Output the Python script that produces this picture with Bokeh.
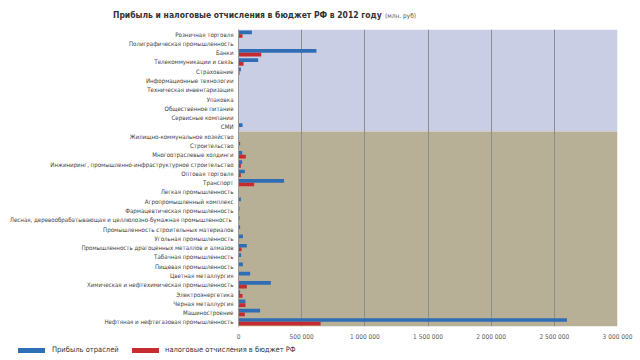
from bokeh.plotting import figure
from bokeh.models import (ColumnDataSource, FixedTicker, BoxAnnotation, Range1d, Div)
from bokeh.layouts import column
from bokeh.embed import file_html
from bokeh.resources import INLINE

categories = [
    "Розничная торговля",
    "Полиграфическая промышленность",
    "Банки",
    "Телекоммуникации и связь",
    "Страхование",
    "Информационные технологии",
    "Техническая инвентаризация",
    "Упаковка",
    "Общественное питание",
    "Сервисные компании",
    "СМИ",
    "Жилищно-коммунальное хозяйство",
    "Строительство",
    "Многоотраслевые холдинги",
    "Инжиниринг, промышленно-инфраструктурное строительство",
    "Оптовая торговля",
    "Транспорт",
    "Легкая промышленность",
    "Агропромышленный комплекс",
    "Фармацевтическая промышленность",
    "Лесная, деревообрабатывающая  и целлюлозно-бумажная промышленность",
    "Промышленность строительных материалов",
    "Угольная промышленность",
    "Промышленность драгоценных металлов и алмазов",
    "Табачная промышленность",
    "Пищевая промышленность",
    "Цветная металлургия",
    "Химическая и нефтехимическая промышленность",
    "Электроэнергетика",
    "Черная металлургия",
    "Машиностроение",
    "Нефтяная и нефтегазовая промышленность",
]
profit = [106000, 2000, 617000, 156000, 19000, 2000, 1000, 1000, 1000, 1000, 32000,
          3000, 13000, 29000, 29000, 50000, 361000, 2000, 19000, 8000, 8000, 13000,
          35000, 66000, 21000, 35000, 92000, 256000, 13000, 55000, 171000, 2600000]
taxes = [32000, 1000, 180000, 40000, 8000, 1000, 500, 500, 500, 500, 5000,
         2000, 2000, 58000, 19000, 19000, 124000, 1000, 3000, 2000, 2000, 3000,
         5000, 24000, 4000, 4000, 3000, 66000, 32000, 55000, 50000, 650000]
x_ticks = [0, 500000, 1000000, 1500000, 2000000, 2500000, 3000000]
x_tick_labels = ["0", "500 000", "1 000 000", "1 500 000", "2 000 000", "2 500 000", "3 000 000"]
series_names = ["Прибыль отраслей", "налоговые отчисления в бюджет РФ"]
series_colors = ["#2f6db5", "#c62b2f"]
title_main = "Прибыль и налоговые отчисления в бюджет РФ в 2012 году"
title_unit = "(млн. руб)"
n_service = 11  # first 11 categories shown on the light-blue band

n = len(categories)
ypos = [n - i for i in range(n)]
src = ColumnDataSource(dict(
    y_profit=[y + 0.2 for y in ypos],
    y_tax=[y - 0.2 for y in ypos],
    profit=profit, taxes=taxes,
))

FONT = "DejaVu Sans Condensed"

title = Div(text=(
    f'<div style="padding:8px 0 0 113px;white-space:nowrap;font-family:\'{FONT}\';'
    f'color:#333333;line-height:12px">'
    f'<span style="font-weight:bold;font-size:8.5px">{title_main}</span> '
    f'<span style="font-size:6.5px;color:#555555">{title_unit}</span></div>'),
    width=640, height=29, margin=(0, 0, 0, 0))

p = figure(width=640, height=314, output_backend="svg", toolbar_location=None,
           x_range=Range1d(0, 3000000), y_range=Range1d(0.5, n + 0.5),
           min_border_left=238, min_border_right=23, min_border_top=0,
           min_border_bottom=16, background_fill_color="white",
           border_fill_color="white", outline_line_color=None, margin=(0, 0, 0, 0))

p.add_layout(BoxAnnotation(bottom=n - n_service + 0.5, top=n + 0.5, fill_color="#c9cee4",
                           fill_alpha=1, line_color=None, level="image"))
p.add_layout(BoxAnnotation(bottom=0.5, top=n - n_service + 0.5, fill_color="#b8b096",
                           fill_alpha=1, line_color=None, level="image"))

p.hbar(y="y_profit", right="profit", left=0, height=0.4, source=src,
       fill_color=series_colors[0], line_color=None)
p.hbar(y="y_tax", right="taxes", left=0, height=0.4, source=src,
       fill_color=series_colors[1], line_color=None)

p.xgrid.ticker = FixedTicker(ticks=x_ticks)
p.xgrid.grid_line_color = "#8d8d8d"
p.xgrid.grid_line_width = 1
p.ygrid.grid_line_color = None

p.xaxis.ticker = FixedTicker(ticks=x_ticks)
p.xaxis.major_label_overrides = {t: l for t, l in zip(x_ticks, x_tick_labels)}
p.xaxis.axis_line_color = None
p.xaxis.major_tick_line_color = None
p.xaxis.minor_tick_line_color = None
p.xaxis.major_tick_out = 0
p.xaxis.minor_tick_out = 0
p.xaxis.major_label_text_font = FONT
p.xaxis.major_label_text_font_size = "6.5px"
p.xaxis.major_label_text_color = "#595959"
p.xaxis.major_label_standoff = 6

p.yaxis.ticker = FixedTicker(ticks=ypos)
p.yaxis.major_label_overrides = {y: c for y, c in zip(ypos, categories)}
p.yaxis.axis_line_color = "#999999"
p.yaxis.major_tick_line_color = None
p.yaxis.minor_tick_line_color = None
p.yaxis.major_tick_out = 0
p.yaxis.minor_tick_out = 0
p.yaxis.major_label_text_font = FONT
p.yaxis.major_label_text_font_size = "6.1px"
p.yaxis.major_label_text_color = "#404040"
p.yaxis.major_label_standoff = 5

legend_html = (
    f'<div style="position:relative;width:640px;height:17px;font-family:\'{FONT}\';'
    f'font-size:7.5px;color:#333333">'
    f'<span style="position:absolute;left:18px;top:5px;width:27px;height:5px;'
    f'background:{series_colors[0]}"></span>'
    f'<span style="position:absolute;left:52px;top:2px;line-height:10px;white-space:nowrap">'
    f'{series_names[0]}</span>'
    f'<span style="position:absolute;left:132px;top:5px;width:27px;height:5px;'
    f'background:{series_colors[1]}"></span>'
    f'<span style="position:absolute;left:165px;top:2px;line-height:10px;white-space:nowrap">'
    f'{series_names[1]}</span></div>')
legend = Div(text=legend_html, width=640, height=17, margin=(0, 0, 0, 0))

open("out.html", "w").write(file_html(column(title, p, legend, spacing=0), INLINE))
